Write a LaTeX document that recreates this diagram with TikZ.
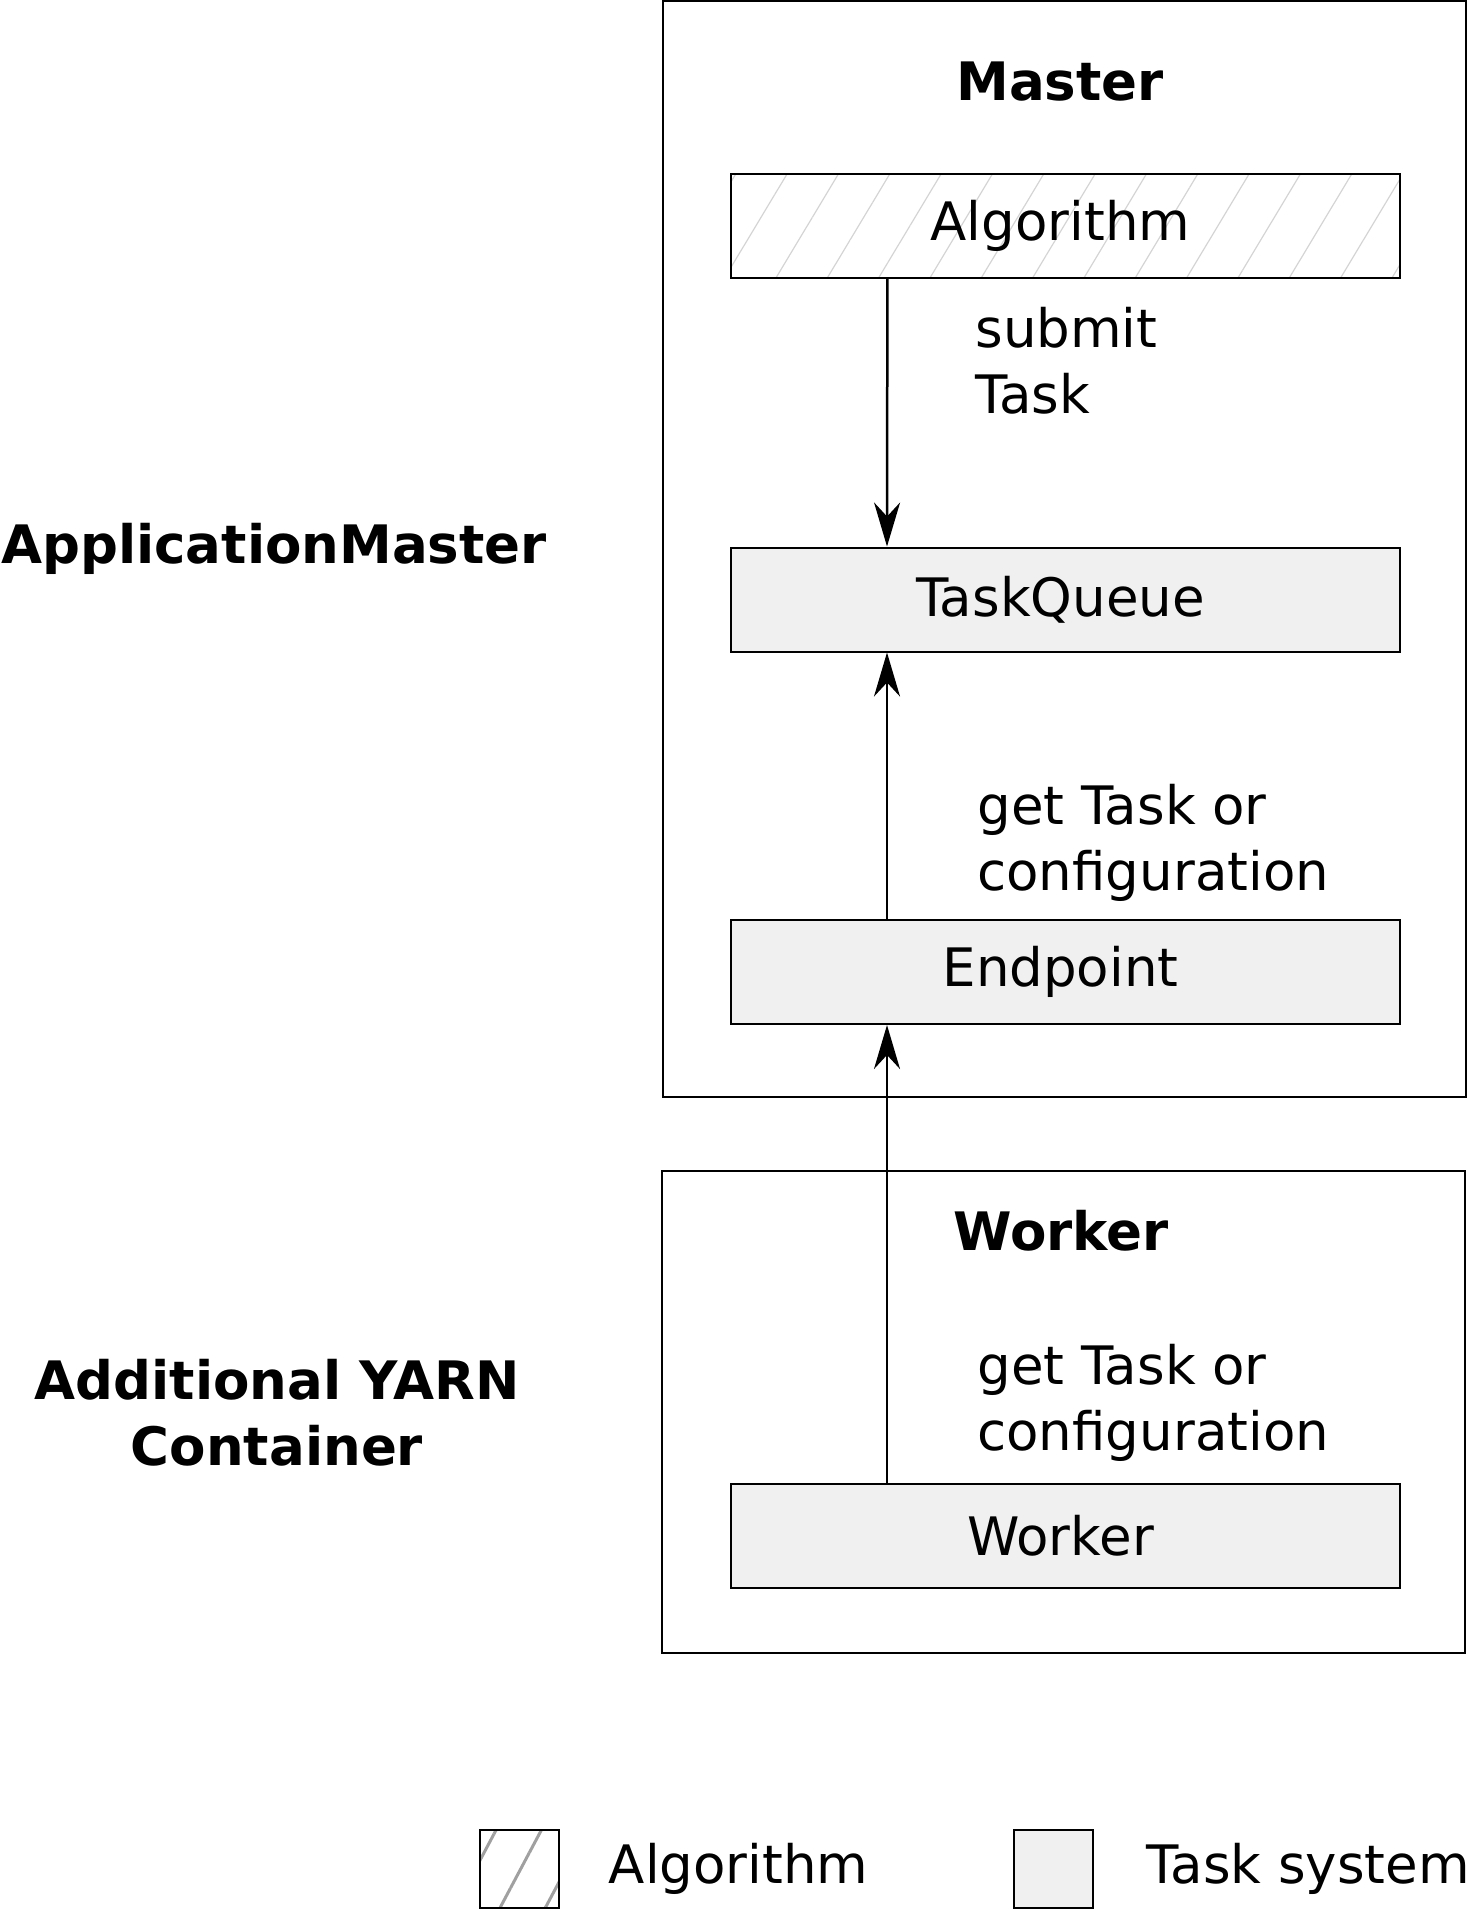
\documentclass[tikz,border=0pt]{standalone}
\usepackage{fontspec}
\setmainfont{DejaVu Sans}
\usetikzlibrary{arrows.meta, patterns.meta, positioning}
\definecolor{sysfill}{HTML}{F0F0F0}
\definecolor{hatchlight}{HTML}{D4D4D4}
\definecolor{hatchdark}{HTML}{A0A0A0}
\newcommand{\diagfont}{\fontsize{26.5}{33}\selectfont}
\tikzset{
  frame/.style={rectangle, draw=black, line width=1pt, minimum width=401.5pt, inner sep=0pt},
  blk/.style={rectangle, draw=black, line width=1pt, minimum width=334.5pt, minimum height=52pt, inner sep=0pt, execute at begin node=\kern-5pt},
  alg/.style={blk, pattern={Lines[angle=59, distance=22pt, line width=0.6pt]}, pattern color=hatchlight},
  sys/.style={blk, fill=sysfill},
  ttl/.style={font=\diagfont\bfseries},
  lab/.style={anchor=west, align=left, inner sep=0pt},
  key/.style={rectangle, draw=black, line width=1pt, minimum width=39.5pt, minimum height=39pt, inner sep=0pt},
  arr/.style={-{Stealth[length=22pt, width=13pt, inset=7pt]}, line width=1.25pt},
}

\begin{document}
\begin{tikzpicture}[x=0.5pt, y=-0.5pt, font=\diagfont]
  \useasboundingbox (0,0) rectangle (1467,1911);
  % master container
  \node[frame, minimum height=548pt] (masterbox) at (1064.5,549) {};
  \node[ttl] (mastertitle) at (1060,82) {Master};
  \node[alg] (algo) at (1065.5,226) {Algorithm};
  \node[sys] (queue) at (1065.5,599.5) {TaskQueue};
  \node[sys] (endpoint) at (1065.5,972) {Endpoint};
  \node[lab] (submitlab) at (975,361) {submit\\Task};
  \node[lab] (getlab) at (977,843) {get Task or\\configuration};
  % worker container
  \node[frame, minimum height=241pt] (workerbox) at (1063.5,1412) {};
  \node[ttl] (workertitle) at (1061,1231) {Worker};
  \node[sys] (worker) at (1065.5,1536) {Worker};
  \node[lab] (workerlab) at (977,1403) {get Task or\\configuration};
  % side labels
  \node[ttl, align=center] (amlab) at (274,549) {ApplicationMaster};
  \node[ttl, align=center] (yarnlab) at (277,1413) {Additional YARN\\Container};
  % connectors
  \draw[arr] ([xshift=78.5pt]algo.south west) -- ([xshift=78.5pt]queue.north west);
  \draw[arr] ([xshift=78.5pt]endpoint.north west) -- ([xshift=78.5pt]queue.south west);
  \draw[arr] ([xshift=78.5pt]worker.north west) -- ([xshift=78.5pt]endpoint.south west);
  % legend
  \node[key, pattern={Lines[angle=62, distance=20pt, line width=1.5pt]}, pattern color=hatchdark] (keyalg) at (519.5,1869) {};
  \node[lab, right=24pt of keyalg] (keyalglab) {Algorithm};
  \node[key, fill=sysfill] (keysys) at (1053,1869) {};
  \node[lab, right=26.5pt of keysys] (keysyslab) {Task system};
\end{tikzpicture}
\end{document}
